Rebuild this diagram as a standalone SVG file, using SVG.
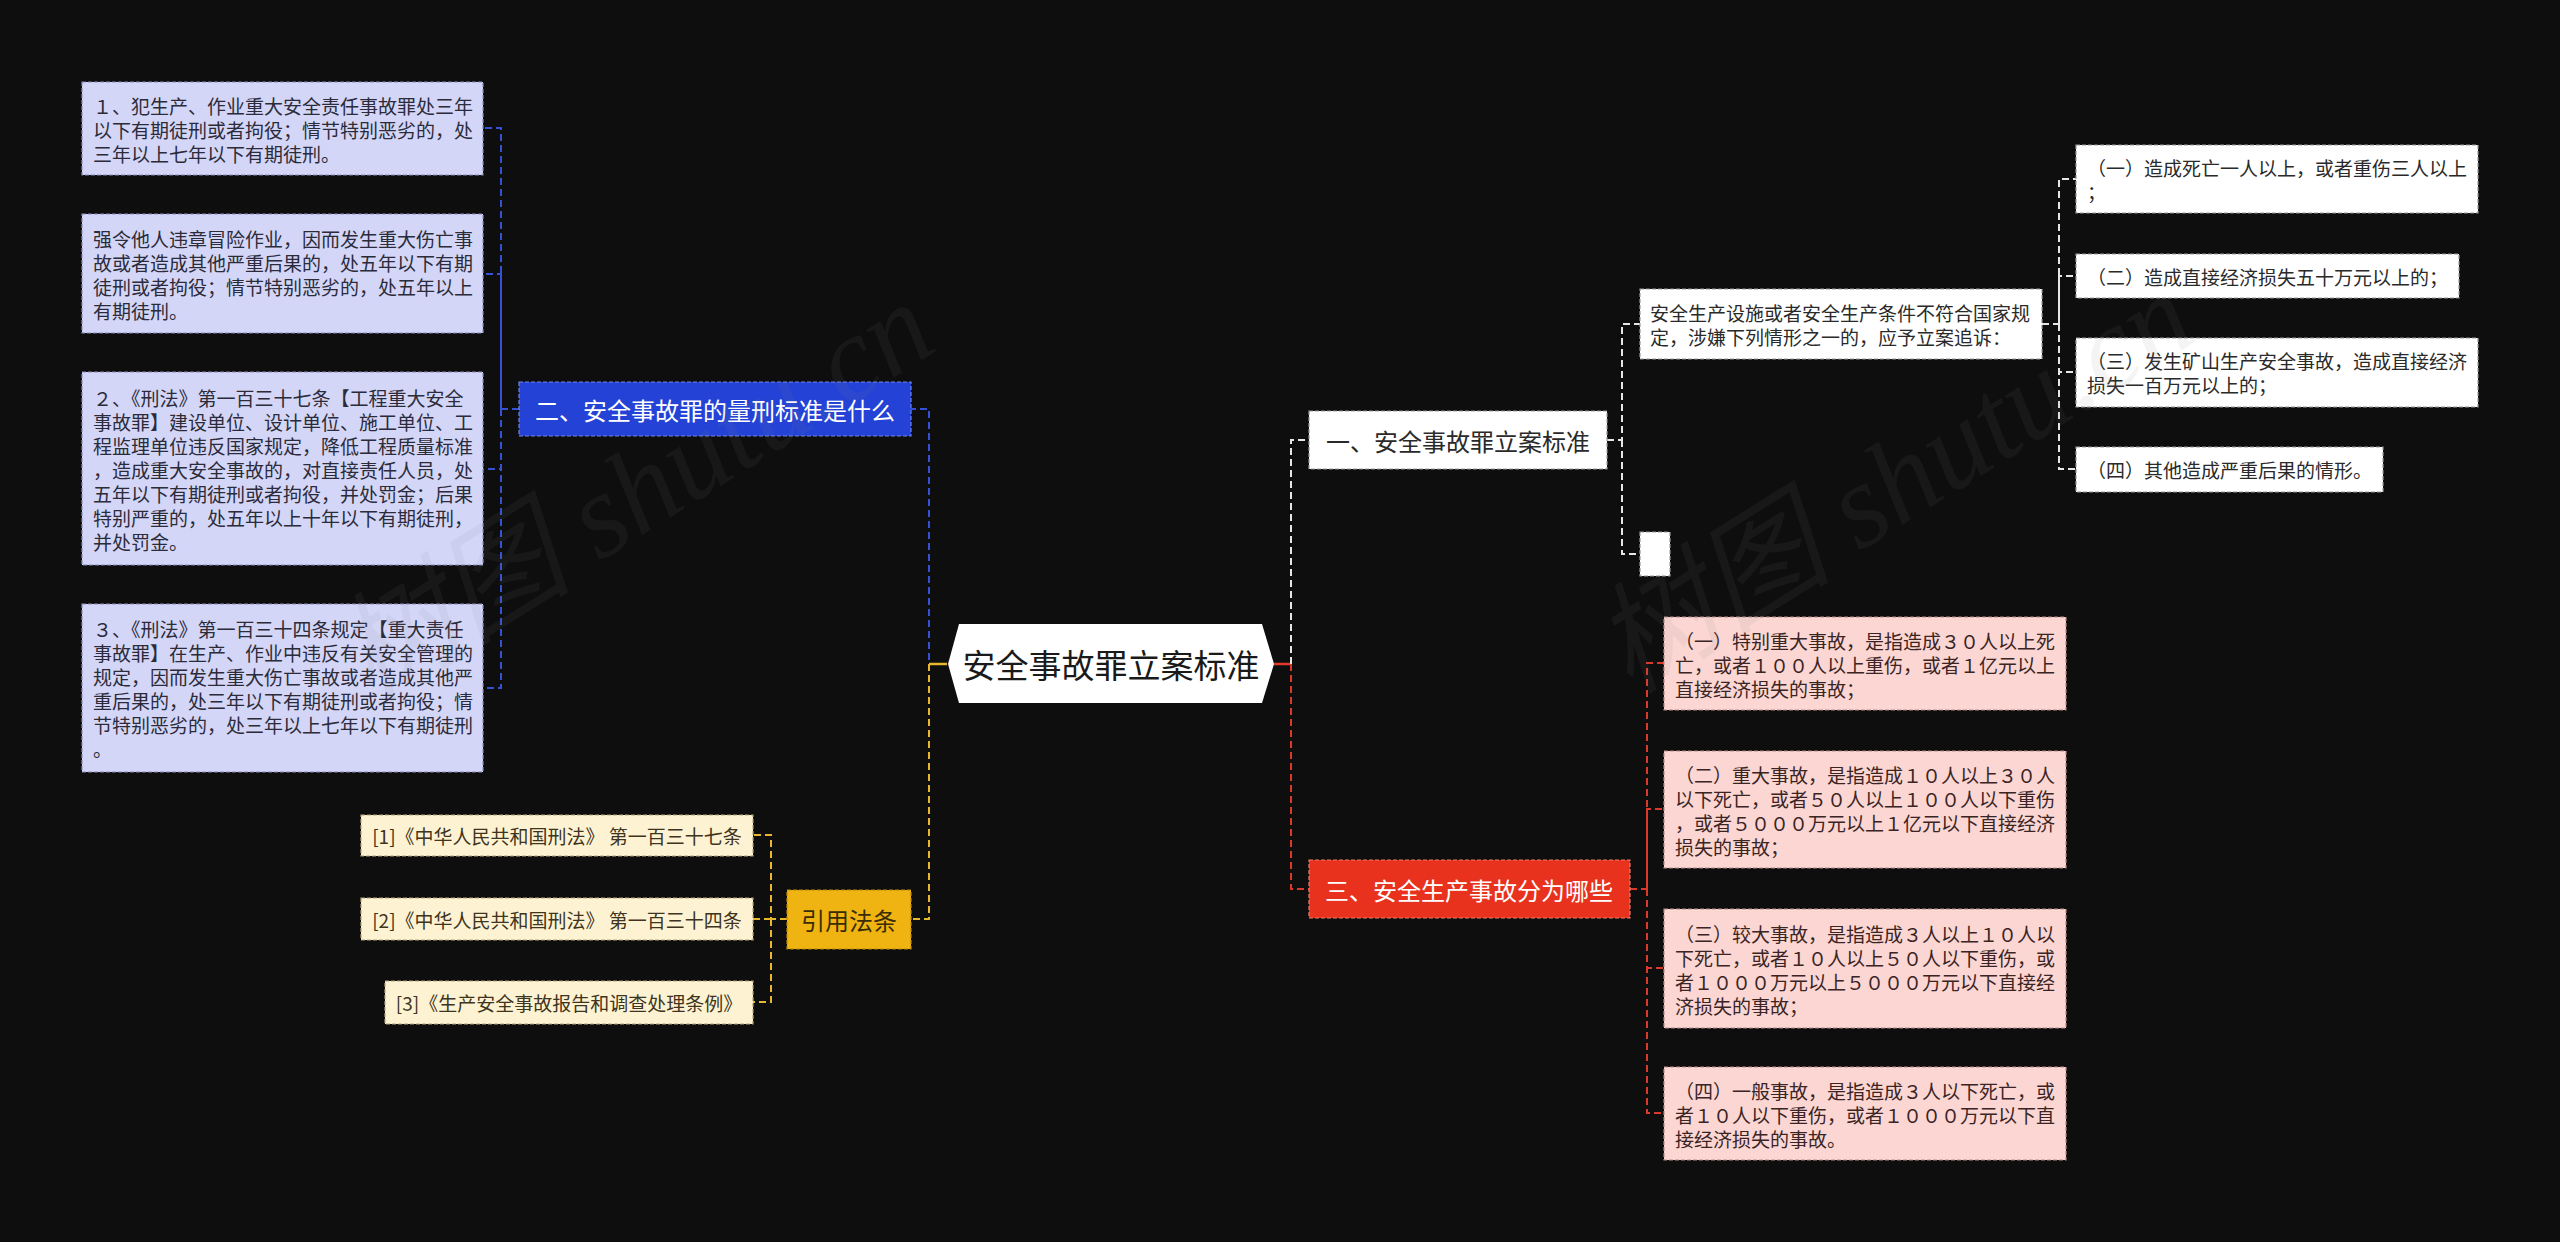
<svg xmlns="http://www.w3.org/2000/svg" width="2560" height="1242" viewBox="0 0 2560 1242">
<style>
text{font-family:"Noto Sans CJK SC","Noto Sans",sans-serif;dominant-baseline:central}
.t19{font-size:19px}
.t24{font-size:24px}
.lav{fill:#d4d6f8;stroke:#8a8cbc;stroke-width:1.2;stroke-dasharray:4 2}
.lavt{fill:#2b2b3a}
.wht{fill:#ffffff;stroke:#9a9a9a;stroke-width:1.2;stroke-dasharray:4 2}
.whtt{fill:#2a2a2a}
.pnk{fill:#fbd6d2;stroke:#b88c88;stroke-width:1.2;stroke-dasharray:4 2}
.pnkt{fill:#3a2424}
.crm{fill:#fdf3d3;stroke:#b3a47a;stroke-width:1.2;stroke-dasharray:4 2}
.crmt{fill:#3e3420}
.c{fill:none;stroke-width:2;stroke-dasharray:7 4}
.cb{stroke:#3651d4}
.cy{stroke:#e9b72c}
.cw{stroke:#e6e6e6}
.cr{stroke:#db3a2a}
.wm{font-family:"Liberation Serif","Noto Sans CJK SC",serif;font-style:italic;font-size:120px;fill:#8a8a8a;fill-opacity:0.09;dominant-baseline:auto}
</style>
<rect x="0" y="0" width="2560" height="1242" fill="#0e0e0e"/>

<g id="connectors">
  <path class="c cb" d="M947 664 H929 V409 H911"/>
  <path fill="none" stroke="#e9b72c" stroke-width="2.5" d="M947 664 H929"/>
  <path class="c cy" d="M929 664 V919 H911"/>
  <path class="c cb" d="M519 409 H501 V128 H483"/>
  <path class="c cb" d="M501 409 V274 H483"/>
  <path class="c cb" d="M501 409 V469 H483"/>
  <path class="c cb" d="M501 409 V688 H483"/>
  <path class="c cy" d="M787 919 H771 V835 H753"/>
  <path class="c cy" d="M771 919 H753"/>
  <path class="c cy" d="M771 919 V1002 H753"/>
  <path fill="none" stroke="#e03a2a" stroke-width="2.5" d="M1274 664 H1291"/>
  <path class="c cw" d="M1291 664 V440 H1309"/>
  <path class="c cr" d="M1291 664 V889 H1309"/>
  <path class="c cw" d="M1607 440 H1622 V324 H1640"/>
  <path class="c cw" d="M1622 440 V554 H1640"/>
  <path class="c cw" d="M2042 324 H2059 V179 H2076"/>
  <path class="c cw" d="M2059 324 V276 H2076"/>
  <path class="c cw" d="M2059 324 V372 H2076"/>
  <path class="c cw" d="M2059 324 V469 H2076"/>
  <path class="c cr" d="M1630 889 H1647 V663 H1664"/>
  <path class="c cr" d="M1647 889 V809 H1664"/>
  <path class="c cr" d="M1647 889 V968 H1664"/>
  <path class="c cr" d="M1647 889 V1113 H1664"/>
</g>

<g id="root">
  <path d="M948 664 L959 624 H1262 L1274 664 L1262 703 H959 Z" fill="#ffffff"/>
  <text x="1111" y="664" font-size="33" fill="#1a1a1a" text-anchor="middle">安全事故罪立案标准</text>
</g>

<g id="n-liang">
  <rect x="519" y="382" width="392" height="54" fill="#2443d6" stroke="#7084e8" stroke-width="1.2" stroke-dasharray="4 2"/>
  <text class="t24" x="715" y="409" fill="#ffffff" text-anchor="middle">二、安全事故罪的量刑标准是什么</text>
</g>

<g id="n-l1">
  <rect class="lav" x="82" y="82" width="401" height="93"/>
  <text class="t19 lavt" x="93" y="105">１、犯生产、作业重大安全责任事故罪处三年</text>
  <text class="t19 lavt" x="93" y="129">以下有期徒刑或者拘役；情节特别恶劣的，处</text>
  <text class="t19 lavt" x="93" y="153">三年以上七年以下有期徒刑。</text>
</g>

<g id="n-l2">
  <rect class="lav" x="82" y="214" width="401" height="119"/>
  <text class="t19 lavt" x="93" y="238">强令他人违章冒险作业，因而发生重大伤亡事</text>
  <text class="t19 lavt" x="93" y="262">故或者造成其他严重后果的，处五年以下有期</text>
  <text class="t19 lavt" x="93" y="286">徒刑或者拘役；情节特别恶劣的，处五年以上</text>
  <text class="t19 lavt" x="93" y="310">有期徒刑。</text>
</g>

<g id="n-l3">
  <rect class="lav" x="82" y="372" width="401" height="193"/>
  <text class="t19 lavt" x="93" y="397">２、《刑法》第一百三十七条【工程重大安全</text>
  <text class="t19 lavt" x="93" y="421">事故罪】建设单位、设计单位、施工单位、工</text>
  <text class="t19 lavt" x="93" y="445">程监理单位违反国家规定，降低工程质量标准</text>
  <text class="t19 lavt" x="93" y="469">，造成重大安全事故的，对直接责任人员，处</text>
  <text class="t19 lavt" x="93" y="493">五年以下有期徒刑或者拘役，并处罚金；后果</text>
  <text class="t19 lavt" x="93" y="517">特别严重的，处五年以上十年以下有期徒刑，</text>
  <text class="t19 lavt" x="93" y="541">并处罚金。</text>
</g>

<g id="n-l4">
  <rect class="lav" x="82" y="604" width="401" height="168"/>
  <text class="t19 lavt" x="93" y="628">３、《刑法》第一百三十四条规定【重大责任</text>
  <text class="t19 lavt" x="93" y="652">事故罪】在生产、作业中违反有关安全管理的</text>
  <text class="t19 lavt" x="93" y="676">规定，因而发生重大伤亡事故或者造成其他严</text>
  <text class="t19 lavt" x="93" y="700">重后果的，处三年以下有期徒刑或者拘役；情</text>
  <text class="t19 lavt" x="93" y="724">节特别恶劣的，处三年以上七年以下有期徒刑</text>
  <text class="t19 lavt" x="93" y="748">。</text>
</g>

<g id="n-yinyong">
  <rect x="787" y="890" width="124" height="59" fill="#f0b412" stroke="#b88a06" stroke-width="1.2" stroke-dasharray="4 2"/>
  <text class="t24" x="849" y="919" fill="#3a2c05" text-anchor="middle">引用法条</text>
</g>

<g id="n-c1">
  <rect class="crm" x="361" y="815" width="392" height="41"/>
  <text class="t19 crmt" x="557" y="835" text-anchor="middle">[1]《中华人民共和国刑法》 第一百三十七条</text>
</g>
<g id="n-c2">
  <rect class="crm" x="361" y="898" width="392" height="42"/>
  <text class="t19 crmt" x="557" y="919" text-anchor="middle">[2]《中华人民共和国刑法》 第一百三十四条</text>
</g>
<g id="n-c3">
  <rect class="crm" x="385" y="981" width="368" height="43"/>
  <text class="t19 crmt" x="569" y="1002" text-anchor="middle">[3]《生产安全事故报告和调查处理条例》</text>
</g>

<g id="n-lian">
  <rect class="wht" x="1309" y="411" width="298" height="58"/>
  <text class="t24 whtt" x="1458" y="440" text-anchor="middle">一、安全事故罪立案标准</text>
</g>

<g id="n-tiaojian">
  <rect class="wht" x="1640" y="289" width="402" height="70"/>
  <text class="t19 whtt" x="1650" y="312">安全生产设施或者安全生产条件不符合国家规</text>
  <text class="t19 whtt" x="1650" y="336">定，涉嫌下列情形之一的，应予立案追诉：</text>
</g>

<g id="n-empty">
  <rect class="wht" x="1640" y="532" width="30" height="44"/>
</g>

<g id="n-r1">
  <rect class="wht" x="2076" y="145" width="402" height="68"/>
  <text class="t19 whtt" x="2087" y="167">（一）造成死亡一人以上，或者重伤三人以上</text>
  <text class="t19 whtt" x="2087" y="191">；</text>
</g>
<g id="n-r2">
  <rect class="wht" x="2076" y="254" width="383" height="44"/>
  <text class="t19 whtt" x="2087" y="276">（二）造成直接经济损失五十万元以上的；</text>
</g>
<g id="n-r3">
  <rect class="wht" x="2076" y="338" width="402" height="69"/>
  <text class="t19 whtt" x="2087" y="360">（三）发生矿山生产安全事故，造成直接经济</text>
  <text class="t19 whtt" x="2087" y="384">损失一百万元以上的；</text>
</g>
<g id="n-r4">
  <rect class="wht" x="2076" y="447" width="307" height="45"/>
  <text class="t19 whtt" x="2087" y="469">（四）其他造成严重后果的情形。</text>
</g>

<g id="n-fenlei">
  <rect x="1309" y="860" width="321" height="58" fill="#e8321d" stroke="#f27a6a" stroke-width="1.2" stroke-dasharray="4 2"/>
  <text class="t24" x="1469" y="889" fill="#ffffff" text-anchor="middle">三、安全生产事故分为哪些</text>
</g>

<g id="n-p1">
  <rect class="pnk" x="1664" y="617" width="402" height="93"/>
  <text class="t19 pnkt" x="1675" y="640">（一）特别重大事故，是指造成３０人以上死</text>
  <text class="t19 pnkt" x="1675" y="664">亡，或者１００人以上重伤，或者１亿元以上</text>
  <text class="t19 pnkt" x="1675" y="688">直接经济损失的事故；</text>
</g>
<g id="n-p2">
  <rect class="pnk" x="1664" y="751" width="402" height="117"/>
  <text class="t19 pnkt" x="1675" y="774">（二）重大事故，是指造成１０人以上３０人</text>
  <text class="t19 pnkt" x="1675" y="798">以下死亡，或者５０人以上１００人以下重伤</text>
  <text class="t19 pnkt" x="1675" y="822">，或者５０００万元以上１亿元以下直接经济</text>
  <text class="t19 pnkt" x="1675" y="846">损失的事故；</text>
</g>
<g id="n-p3">
  <rect class="pnk" x="1664" y="909" width="402" height="119"/>
  <text class="t19 pnkt" x="1675" y="933">（三）较大事故，是指造成３人以上１０人以</text>
  <text class="t19 pnkt" x="1675" y="957">下死亡，或者１０人以上５０人以下重伤，或</text>
  <text class="t19 pnkt" x="1675" y="981">者１０００万元以上５０００万元以下直接经</text>
  <text class="t19 pnkt" x="1675" y="1005">济损失的事故；</text>
</g>
<g id="n-p4">
  <rect class="pnk" x="1664" y="1067" width="402" height="93"/>
  <text class="t19 pnkt" x="1675" y="1090">（四）一般事故，是指造成３人以下死亡，或</text>
  <text class="t19 pnkt" x="1675" y="1114">者１０人以下重伤，或者１０００万元以下直</text>
  <text class="t19 pnkt" x="1675" y="1138">接经济损失的事故。</text>
</g>

<g id="watermark">
  <text class="wm" transform="translate(370 705) rotate(-32)">树图 shutu.cn</text>
  <text class="wm" transform="translate(1630 695) rotate(-32)">树图 shutu.cn</text>
</g>
</svg>
